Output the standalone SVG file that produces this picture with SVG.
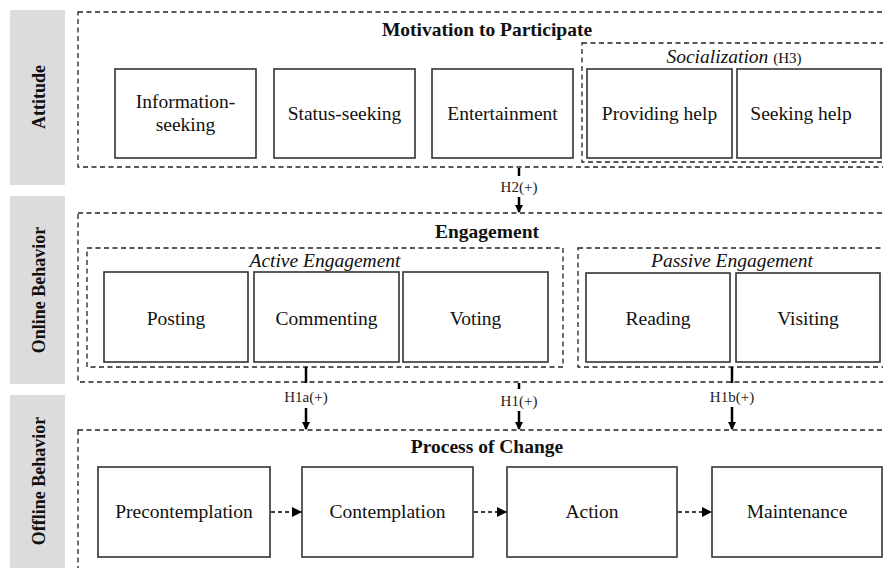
<svg xmlns="http://www.w3.org/2000/svg" width="883" height="568" viewBox="0 0 883 568">
<defs>
<marker id="ah" markerWidth="8" markerHeight="8" refX="7" refY="4" orient="auto" markerUnits="userSpaceOnUse">
<path d="M0,0 L8,4 L0,8 Z" fill="#000"/>
</marker>
<marker id="ahs" markerWidth="10" markerHeight="10" refX="9" refY="5" orient="auto" markerUnits="userSpaceOnUse">
<path d="M0,0 L10,5 L0,10 Z" fill="#000"/>
</marker>
</defs>
<style>
text{font-family:'Liberation Serif','Times New Roman',Times,serif}
.side{fill:#dcdcdc}
.sidet{font-weight:bold;font-size:18px;fill:#111;text-anchor:middle}
.grp{fill:none;stroke:#222;stroke-width:1.3;stroke-dasharray:5 3.5}
.box{fill:#fff;stroke:#333;stroke-width:1.6}
.t{font-size:19.5px;fill:#111;text-anchor:middle}
.ti{font-size:19.5px;font-style:italic;fill:#111;text-anchor:middle}
.tb{font-size:19.5px;font-weight:bold;fill:#111;text-anchor:middle}
.lab{font-size:15px;fill:#222;text-anchor:middle}
.ln{stroke:#000;stroke-width:2.5;fill:none}
.dl{stroke:#000;stroke-width:1.3;stroke-dasharray:4 3;fill:none}
</style>
<g id="sidebars">
<rect class="side" x="10" y="10" width="55" height="175"/>
<rect class="side" x="10" y="196" width="55" height="188"/>
<rect class="side" x="10" y="395" width="55" height="180"/>
<text class="sidet" transform="translate(45,97) rotate(-90)">Attitude</text>
<text class="sidet" transform="translate(45,290) rotate(-90)">Online Behavior</text>
<text class="sidet" transform="translate(45,481) rotate(-90)">Offline Behavior</text>
</g>
<g id="motivation">
<rect class="grp" x="78" y="12" width="820" height="155"/>
<text class="tb" x="487" y="36">Motivation to Participate</text>
</g>
<g id="socialization">
<rect class="grp" x="582" y="43" width="320" height="119"/>
<text x="734" y="63" class="ti">Socialization <tspan font-style="normal" font-size="15">(H3)</tspan></text>
</g>
<g id="info"><rect class="box" x="115" y="69" width="141" height="89"/><text class="t" x="185.5" y="108">Information-</text><text class="t" x="185.5" y="131">seeking</text></g>
<g id="status"><rect class="box" x="274" y="69" width="141" height="89"/><text class="t" x="344.5" y="120">Status-seeking</text></g>
<g id="entertainment"><rect class="box" x="432" y="69" width="141" height="89"/><text class="t" x="502.5" y="120">Entertainment</text></g>
<g id="providing"><rect class="box" x="587" y="69" width="145" height="89"/><text class="t" x="659.5" y="120">Providing help</text></g>
<g id="seeking"><rect class="box" x="737" y="69" width="144" height="89"/><text class="t" x="801" y="120">Seeking help</text></g>

<g id="engagement">
<rect class="grp" x="78" y="213" width="820" height="169"/>
<text class="tb" x="487" y="238">Engagement</text>
</g>
<g id="active">
<rect class="grp" x="87" y="248" width="476" height="119"/>
<text class="ti" x="325" y="267">Active Engagement</text>
</g>
<g id="passive">
<rect class="grp" x="578" y="248" width="320" height="119"/>
<text class="ti" x="732" y="267">Passive Engagement</text>
</g>
<g id="posting"><rect class="box" x="104" y="272" width="144" height="90"/><text class="t" x="176" y="325">Posting</text></g>
<g id="commenting"><rect class="box" x="254" y="272" width="145" height="90"/><text class="t" x="326.5" y="325">Commenting</text></g>
<g id="voting"><rect class="box" x="403" y="272" width="145" height="90"/><text class="t" x="475.5" y="325">Voting</text></g>
<g id="reading"><rect class="box" x="586" y="273" width="144" height="89"/><text class="t" x="658" y="325">Reading</text></g>
<g id="visiting"><rect class="box" x="736" y="273" width="144" height="89"/><text class="t" x="808" y="325">Visiting</text></g>

<g id="process">
<rect class="grp" x="78" y="430" width="820" height="160"/>
<text class="tb" x="487" y="453">Process of Change</text>
</g>
<g id="precontemplation"><rect class="box" x="98" y="467" width="172" height="90"/><text class="t" x="184" y="518">Precontemplation</text></g>
<g id="contemplation"><rect class="box" x="302" y="467" width="171" height="90"/><text class="t" x="387.5" y="518">Contemplation</text></g>
<g id="action"><rect class="box" x="507" y="467" width="170" height="90"/><text class="t" x="592" y="518">Action</text></g>
<g id="maintenance"><rect class="box" x="712" y="467" width="170" height="90"/><text class="t" x="797" y="518">Maintenance</text></g>

<g id="connectors">
<line class="ln" x1="519" y1="168" x2="519" y2="176"/>
<text class="lab" x="519" y="192">H2(+)</text>
<line class="ln" x1="519" y1="197" x2="519" y2="212" marker-end="url(#ah)"/>

<line class="ln" x1="306" y1="367" x2="306" y2="383"/>
<text class="lab" x="306" y="402">H1a(+)</text>
<line class="ln" x1="306" y1="408" x2="306" y2="429" marker-end="url(#ah)"/>

<line class="ln" x1="519" y1="383" x2="519" y2="389"/>
<text class="lab" x="519" y="406">H1(+)</text>
<line class="ln" x1="519" y1="411" x2="519" y2="429" marker-end="url(#ah)"/>

<line class="ln" x1="732" y1="367" x2="732" y2="383"/>
<text class="lab" x="732" y="402">H1b(+)</text>
<line class="ln" x1="732" y1="407" x2="732" y2="429" marker-end="url(#ah)"/>

<line class="dl" x1="271" y1="512" x2="301" y2="512" marker-end="url(#ahs)"/>
<line class="dl" x1="474" y1="512" x2="506" y2="512" marker-end="url(#ahs)"/>
<line class="dl" x1="678" y1="512" x2="711" y2="512" marker-end="url(#ahs)"/>
</g>
</svg>
